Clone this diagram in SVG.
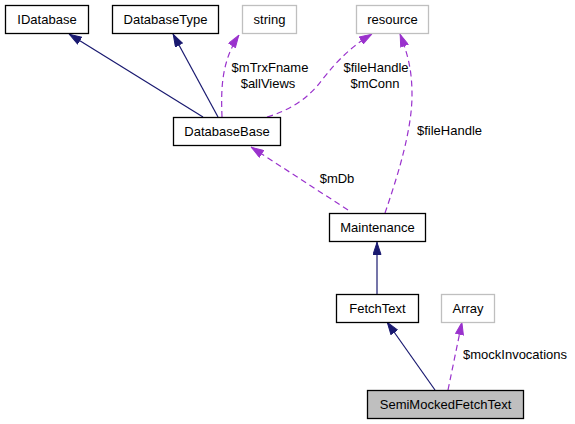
<svg xmlns="http://www.w3.org/2000/svg" width="575" height="424" viewBox="0 0 575 424">
<style>
text{font-family:"Liberation Sans",Arial,sans-serif;font-size:13px;fill:#000}
.node text{text-anchor:middle}
.n{fill:#fff;stroke:#000;stroke-width:1.3}
.g{fill:#fff;stroke:#bfbfbf;stroke-width:1.3}
.cur{fill:#bfbfbf;stroke:#000;stroke-width:1.3}
.inh{fill:none;stroke:#191970;stroke-width:1.2}
.use{fill:none;stroke:#9a32cd;stroke-width:1.2;stroke-dasharray:6,4}
</style>
<defs>
<marker id="ab" viewBox="0 0 13 9" markerWidth="13" markerHeight="9" markerUnits="userSpaceOnUse" refX="13" refY="4.5" orient="auto">
<path d="M0.5,0.5 L12.5,4.5 L0.5,8.5 Z" fill="#191970" stroke="#191970"/>
</marker>
<marker id="ap" viewBox="0 0 13 9" markerWidth="13" markerHeight="9" markerUnits="userSpaceOnUse" refX="13" refY="4.5" orient="auto">
<path d="M0.5,0.5 L12.5,4.5 L0.5,8.5 Z" fill="#9a32cd" stroke="#9a32cd" stroke-dasharray="none"/>
</marker>
</defs>
<rect width="575" height="424" fill="#fff"/>
<g id="connectors">
<path class="inh" d="M203,117 L69,34" marker-end="url(#ab)"/>
<path class="inh" d="M218,117 L173,34" marker-end="url(#ab)"/>
<path class="use" d="M222,117 C221,90 221,62 239,35" marker-end="url(#ap)"/>
<path class="use" d="M267,117 C290,110 305,100 318,85 C330,70 345,50 372,34" marker-end="url(#ap)"/>
<path class="use" d="M385,213 C398,175 412,130 412,95 C412,70 408,55 400,34" marker-end="url(#ap)"/>
<path class="use" d="M348,210 L251,147" marker-end="url(#ap)"/>
<path class="inh" d="M377,294 L377,242" marker-end="url(#ab)"/>
<path class="inh" d="M435,390 L387,322" marker-end="url(#ab)"/>
<path class="use" d="M448,390 L462,322" marker-end="url(#ap)"/>
<text x="270" y="72" text-anchor="middle">$mTrxFname</text>
<text x="268" y="88" text-anchor="middle">$allViews</text>
<text x="376" y="72" text-anchor="middle">$fileHandle</text>
<text x="375" y="88" text-anchor="middle">$mConn</text>
<text x="417" y="135">$fileHandle</text>
<text x="337" y="183" text-anchor="middle">$mDb</text>
<text x="463" y="359">$mockInvocations</text>
</g>
<g id="IDatabase" class="node"><rect class="n" x="5.5" y="5.5" width="83" height="28"/><text x="47" y="24">IDatabase</text></g>
<g id="DatabaseType" class="node"><rect class="n" x="112.5" y="5.5" width="106" height="28"/><text x="165.5" y="24">DatabaseType</text></g>
<g id="string" class="node"><rect class="g" x="242.5" y="5.5" width="54" height="28"/><text x="269.5" y="24">string</text></g>
<g id="resource" class="node"><rect class="g" x="356.5" y="5.5" width="72" height="28"/><text x="392.5" y="24">resource</text></g>
<g id="DatabaseBase" class="node"><rect class="n" x="173.5" y="117.5" width="107" height="28"/><text x="227" y="136">DatabaseBase</text></g>
<g id="Maintenance" class="node"><rect class="n" x="329.5" y="213.5" width="96" height="28"/><text x="377.5" y="232">Maintenance</text></g>
<g id="FetchText" class="node"><rect class="n" x="336.5" y="294.5" width="82" height="28"/><text x="377.5" y="313">FetchText</text></g>
<g id="Array" class="node"><rect class="g" x="441.5" y="294.5" width="53" height="28"/><text x="468" y="313">Array</text></g>
<g id="SemiMockedFetchText" class="node"><rect class="cur" x="367.5" y="390.5" width="156" height="28"/><text x="445.5" y="409">SemiMockedFetchText</text></g>
</svg>
